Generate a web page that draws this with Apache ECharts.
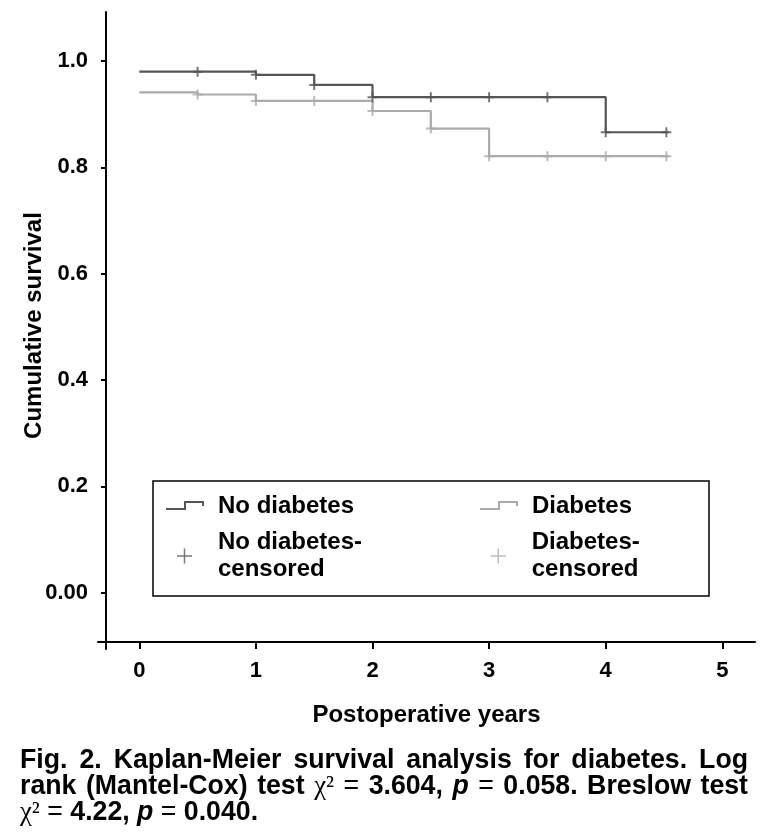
<!DOCTYPE html>
<html>
<head>
<meta charset="utf-8">
<script src="https://cdn.jsdelivr.net/npm/echarts@6/dist/echarts.min.js"></script>
<style>
html,body{margin:0;padding:0;background:#fff;}
#c{width:769px;height:838px;}
</style>
</head>
<body>
<div id="c"></div>
<script>
// ---- data ----
const xTicks = [0, 1, 2, 3, 4, 5];
const yTicks = [0, 0.2, 0.4, 0.6, 0.8, 1.0];

const noDiabTimes = [0, 1.0, 1.5, 2.0, 4.0, 4.54];
const noDiabSurv  = [0.980, 0.974, 0.955, 0.932, 0.866, 0.866];
const diabTimes   = [0, 0.5, 1.0, 2.0, 2.5, 3.0, 4.54];
const diabSurv    = [0.941, 0.937, 0.925, 0.906, 0.873, 0.821, 0.821];

const noDiabCensorTimes = [0.5, 1.0, 1.5, 2.0, 2.5, 3.0, 3.5, 4.0, 4.52];
const noDiabCensorSurv  = [0.980, 0.974, 0.955, 0.932, 0.932, 0.932, 0.932, 0.866, 0.866];
const diabCensorTimes   = [0.5, 1.0, 1.5, 2.0, 2.5, 3.0, 3.5, 4.0, 4.52];
const diabCensorSurv    = [0.937, 0.925, 0.925, 0.906, 0.873, 0.821, 0.821, 0.821, 0.821];

const seriesNames = ['No diabetes', 'Diabetes', 'No diabetes-censored', 'Diabetes-censored'];

const captionLines = [
  [['n','Fig.'],['n','2.'],['n','Kaplan-Meier'],['n','survival'],['n','analysis'],['n','for'],['n','diabetes.'],['n','Log']],
  [['n','rank'],['n','(Mantel-Cox)'],['n','test'],['g','\u03c7\u00b2'],['e','='],['n','3.604,'],['i','p'],['e','='],['n','0.058.'],['n','Breslow'],['n','test']],
  [['g','\u03c7\u00b2'],['e','='],['n','4.22,'],['i','p'],['e','='],['n','0.040.']]
];

// ---- helpers ----
const zip = (a, b) => a.map((v, i) => [v, b[i]]);
const DARK = '#555555';
const LIGHT = '#ababab';
const SANS = "'Liberation Sans', Arial, Helvetica, sans-serif";
const SERIF = "'Liberation Serif', 'DejaVu Serif', serif";

// caption: condensed (horizontally scaled) bold sans, justified
const capWidth = 728;
const capFs = 27;
const targetGap = 12;
const mctx = document.createElement('canvas').getContext('2d');
function styleFont(st, fs) {
  if (st === 'n') return 'normal bold ' + fs + 'px ' + SANS;
  if (st === 'i') return 'italic bold ' + fs + 'px ' + SANS;
  if (st === 'g') return 'normal normal ' + fs + 'px ' + SERIF;
  return 'normal normal ' + fs + 'px ' + SANS;
}
function measure(st, txt, fs) { mctx.font = styleFont(st, fs); return mctx.measureText(txt).width; }
function lineWords(line, fs) { return line.reduce((s, w) => s + measure(w[0], w[1], fs), 0); }
let capScale = (capWidth - targetGap * (captionLines[0].length - 1)) / lineWords(captionLines[0], capFs);
if (capScale > 1) capScale = 1;
const spaceW = measure('n', ' ', capFs);
const localWidth = capWidth / capScale;
const capRich = {};
const baseRich = { lineHeight: 26, fontSize: capFs, fill: '#000' };
capRich.n = Object.assign({}, baseRich, { fontFamily: SANS, fontWeight: 'bold' });
capRich.i = Object.assign({}, baseRich, { fontFamily: SANS, fontWeight: 'bold', fontStyle: 'italic' });
capRich.g = Object.assign({}, baseRich, { fontFamily: SERIF, fontWeight: 'normal' });
capRich.e = Object.assign({}, baseRich, { fontFamily: SANS, fontWeight: 'normal' });
const capText = captionLines.map((line, li) => {
  let gap;
  if (li < captionLines.length - 1) gap = (localWidth - lineWords(line, capFs)) / (line.length - 1);
  else gap = spaceW;
  capRich['s' + li] = Object.assign({}, baseRich, { fontFamily: SANS, fontWeight: 'bold', width: gap });
  return line.map(w => '{' + w[0] + '|' + w[1] + '}').join('{s' + li + '| }');
}).join('\n');

// legend icons (47 x 20 box)
const stepIcon = 'path://M0 0 M47 20 M0 13 L19 13 L19 6 L37 6 L37 10';
const plusIcon = 'path://M0 0 M47 20 M11 10 L26 10 M18.5 2.5 L18.5 17.5';
const censorSymbol = 'path://M0 5 L10 5 M5 0 L5 10';

const chart = echarts.init(document.getElementById('c'), null, { renderer: 'canvas' });
chart.setOption({
  animation: false,
  backgroundColor: '#fff',
  graphic: [{
    type: 'text', x: 20, y: 748, scaleX: capScale, scaleY: 1, silent: true,
    style: {
      text: capText, rich: capRich, fontSize: capFs, fontFamily: SANS, fontWeight: 'bold',
      lineHeight: 26, fill: '#000', align: 'left', verticalAlign: 'top'
    }
  }],
  grid: { left: 98, right: 14, top: 12, bottom: 189, containLabel: false, outerBoundsMode: 'none' },
  legend: {
    left: 153, top: 481, width: 540,
    orient: 'horizontal',
    padding: [11.5, 7, 13, 12],
    itemGap: 23, itemWidth: 47, itemHeight: 20,
    borderColor: '#000', borderWidth: 1.5,
    selectedMode: false,
    textStyle: { fontFamily: SANS, fontSize: 24, fontWeight: 'bold', color: '#000', lineHeight: 27 },
    formatter: n => n.replace('-censored', '-\ncensored'),
    data: [
      { name: seriesNames[0], icon: stepIcon, itemStyle: { color: 'rgba(0,0,0,0)', borderColor: DARK, borderWidth: 2 }, textStyle: { width: 238 } },
      { name: seriesNames[1], icon: stepIcon, itemStyle: { color: 'rgba(0,0,0,0)', borderColor: LIGHT, borderWidth: 2 }, textStyle: { width: 170 } },
      { name: seriesNames[2], icon: plusIcon, itemStyle: { color: 'rgba(0,0,0,0)', borderColor: DARK, borderWidth: 1.5 }, textStyle: { width: 238 } },
      { name: seriesNames[3], icon: plusIcon, itemStyle: { color: 'rgba(0,0,0,0)', borderColor: LIGHT, borderWidth: 1.5 }, textStyle: { width: 170 } }
    ]
  },
  xAxis: {
    type: 'value', min: -0.354, max: 5.28, offset: -7,
    splitLine: { show: false },
    axisLine: { show: true, onZero: false, lineStyle: { color: '#000', width: 2 } },
    axisTick: { show: true, length: 7, customValues: xTicks, lineStyle: { color: '#000', width: 2 } },
    axisLabel: { customValues: xTicks, fontFamily: SANS, fontSize: 22, fontWeight: 'bold', color: '#000', margin: 18 },
    name: 'Postoperative years', nameLocation: 'middle', nameGap: 61, nameMoveOverlap: false,
    nameTextStyle: { fontFamily: SANS, fontSize: 24, fontWeight: 'bold', color: '#000' }
  },
  yAxis: {
    type: 'value', min: -0.1059, max: 1.0922, offset: -8,
    splitLine: { show: false },
    axisLine: { show: true, onZero: false, lineStyle: { color: '#000', width: 2 } },
    axisTick: { show: true, length: 5, customValues: yTicks, lineStyle: { color: '#000', width: 2 } },
    axisLabel: {
      customValues: yTicks, fontFamily: SANS, fontSize: 22, fontWeight: 'bold', color: '#000', margin: 18,
      formatter: v => (Math.abs(v) < 1e-9 ? '0.00' : v.toFixed(1))
    },
    name: 'Cumulative survival', nameLocation: 'middle', nameGap: 60, nameMoveOverlap: false,
    nameTextStyle: { fontFamily: SANS, fontSize: 24, fontWeight: 'bold', color: '#000', padding: [0, 0, 0, 10] }
  },
  series: [
    {
      name: seriesNames[0], type: 'line', step: 'end', symbol: 'none', showSymbol: false,
      data: zip(noDiabTimes, noDiabSurv),
      lineStyle: { color: DARK, width: 2.2 }, itemStyle: { color: DARK }, emphasis: { disabled: true }, z: 3
    },
    {
      name: seriesNames[1], type: 'line', step: 'end', symbol: 'none', showSymbol: false,
      data: zip(diabTimes, diabSurv),
      lineStyle: { color: LIGHT, width: 2.2 }, itemStyle: { color: LIGHT }, emphasis: { disabled: true }, z: 2
    },
    {
      name: seriesNames[2], type: 'scatter', symbol: censorSymbol, symbolSize: [10, 10],
      data: zip(noDiabCensorTimes, noDiabCensorSurv),
      itemStyle: { color: 'rgba(0,0,0,0)', borderColor: DARK, borderWidth: 2 }, emphasis: { disabled: true }, z: 4
    },
    {
      name: seriesNames[3], type: 'scatter', symbol: censorSymbol, symbolSize: [10, 10],
      data: zip(diabCensorTimes, diabCensorSurv),
      itemStyle: { color: 'rgba(0,0,0,0)', borderColor: LIGHT, borderWidth: 2 }, emphasis: { disabled: true }, z: 3
    }
  ]
});
</script>
</body>
</html>
